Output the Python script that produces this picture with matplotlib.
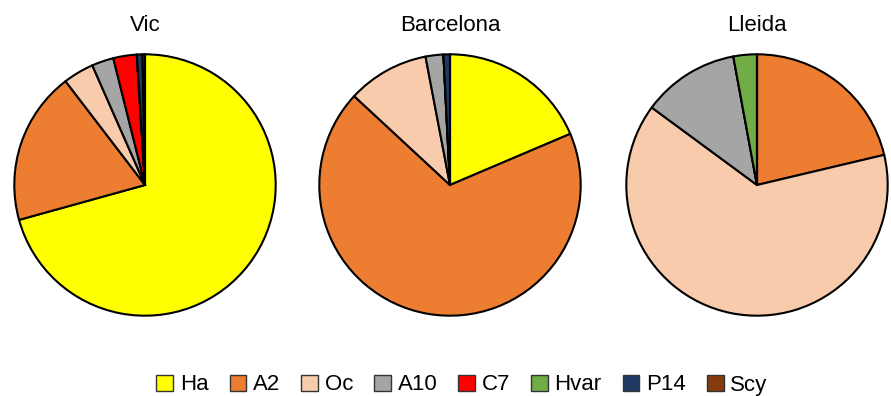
import matplotlib.pyplot as plt
from matplotlib.patches import Patch

plt.rcParams['font.family'] = ['Liberation Sans', 'DejaVu Sans']

labels = ['Ha', 'A2', 'Oc', 'A10', 'C7', 'Hvar', 'P14', 'Scy']
colors = ['#FFFF00', '#ED7D31', '#F8CBAD', '#A5A5A5', '#FF0000', '#70AD47', '#203864', '#843C0C']

sites = ['Vic', 'Barcelona', 'Lleida']
vic = [70.7, 18.9, 3.8, 2.7, 2.9, 0.0, 0.7, 0.3]
barcelona = [18.6, 68.3, 10.1, 2.2, 0.0, 0.0, 0.8, 0.0]
lleida = [0.0, 21.3, 63.8, 12.0, 0.0, 2.9, 0.0, 0.0]
shares = [vic, barcelona, lleida]

W, H = 891, 396
fig = plt.figure(figsize=(W / 100, H / 100), dpi=100)

centers = [145, 450, 757]
r = 132
for cx, name, vals in zip(centers, sites, shares):
    ax = fig.add_axes([(cx - r) / W, (H - 185 - r) / H, 2 * r / W, 2 * r / H])
    ax.pie(vals, colors=colors, startangle=90, counterclock=False, radius=1,
           wedgeprops=dict(edgecolor='black', linewidth=1.5))
    ax.set_xlim(-1.01, 1.01)
    ax.set_ylim(-1.01, 1.01)
    ax.set_aspect('equal')
    ax.set_title(name, fontsize=16, pad=16)

handles = [Patch(facecolor=c, edgecolor='#333333', linewidth=1) for c in colors]
fig.legend(handles, labels, loc='center', bbox_to_anchor=(462 / W, 1 - 385 / H),
           ncol=8, frameon=False, fontsize=16, handlelength=0.75, handleheight=0.75,
           handletextpad=0.3, columnspacing=0.95)

fig.savefig('out.png', dpi=100)
